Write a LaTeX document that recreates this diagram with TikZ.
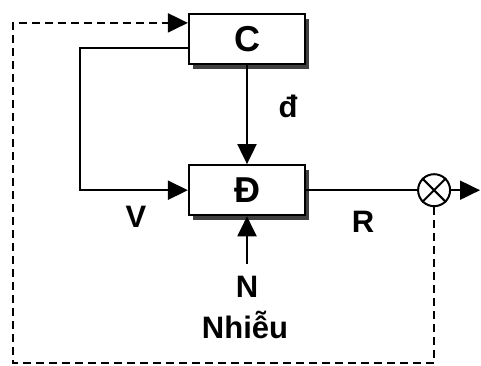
\documentclass[tikz,border=0pt]{standalone}
\usepackage{fontspec}
\setmainfont{Liberation Sans}
\usetikzlibrary{arrows.meta,positioning,shadows}

\begin{document}
\begin{tikzpicture}[
  x=1pt, y=-1pt,
  font=\fontsize{31}{36}\selectfont\bfseries,
  blk/.style={draw, line width=2.2pt, fill=white, minimum width=116pt, minimum height=50pt, inner sep=0pt,
    font=\fontsize{36}{40}\selectfont\bfseries,
    drop shadow={shadow xshift=4pt, shadow yshift=-5pt, fill=black!75, opacity=1}},
  sum/.style={draw, circle, line width=2pt, minimum size=32pt, inner sep=0pt},
  arrow/.style={-{Triangle[length=20pt,width=19pt]}, line width=2pt},
  line/.style={line width=2pt},
  fb/.style={arrow, dash pattern=on 8pt off 5pt}
]
\useasboundingbox (0,0) rectangle (481,366);
\node[blk] (C) at (247,39) {C};
\node[blk, below=99pt of C] (D) {Đ};
\node[sum, right=111pt of D] (sum) {};
\draw[line] (sum.north west) -- (sum.south east) (sum.north east) -- (sum.south west);
\coordinate (out) at (480,0);
\coordinate (lp) at (80,0);
\coordinate (bot) at (13,363);
\node (d) at (288,106) {đ};
\node (V) at (136,217) {V};
\node (R) at (363,222) {R};
\node (N) at (247,287) {N};
\node (noise) at (245,325) {Nhiễu};
\draw[arrow] (C) -- (D);
\draw[arrow] ([yshift=-9pt]C.west) -| (lp |- D.west) -- (D.west);
\draw[line] (D) -- (sum);
\draw[arrow] (sum) -- (out |- sum);
\draw[arrow, shorten <=9pt] (N.north) -- (D.south);
\draw[fb] (sum.south) -- (sum |- bot) -- (bot) |- ([yshift=-10pt]C.north west);
\end{tikzpicture}
\end{document}
